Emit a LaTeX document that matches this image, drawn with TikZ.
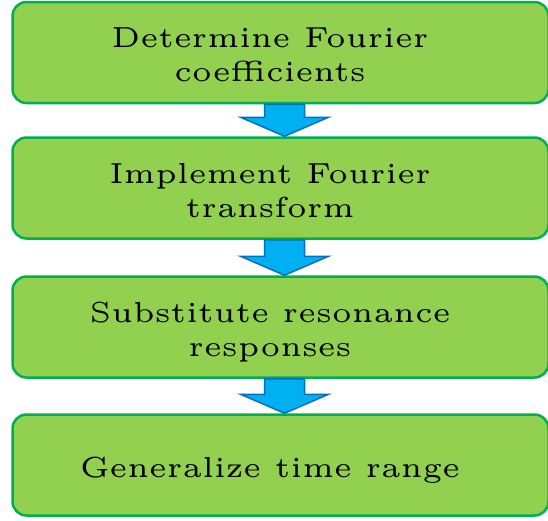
\documentclass[tikz,border=0pt]{standalone}
\usepackage{graphicx}
\usetikzlibrary{calc}
\definecolor{boxgreen}{HTML}{92D050}
\definecolor{edgegreen}{HTML}{00B050}
\definecolor{arrowblue}{HTML}{00B0F0}
\definecolor{edgeblue}{HTML}{0070C0}
\newcommand{\widetext}[1]{\scalebox{5.8}{\fontsize{5}{5.86}\selectfont\begin{tabular}{@{}c@{}}#1\end{tabular}}}
\begin{document}
\begin{tikzpicture}[x=1pt,y=1pt,
stepbox/.style={draw=edgegreen, fill=boxgreen, line width=2.5pt, rounded corners=14pt, minimum width=536pt, minimum height=101pt, inner sep=0pt},
steplabel/.style={inner sep=0pt},
flowarrow/.style={draw=edgeblue, fill=arrowblue, line width=1.5pt, line join=miter}]
\useasboundingbox (0,0) rectangle (548,-520);
\foreach \n/\y/\txt in {1/52.5/{Determine Fourier\\coefficients},2/188/{Implement Fourier\\transform},3/327/{Substitute resonance\\responses},4/465/{Generalize time range}}{
\node [stepbox] (box\n) at (280.5,-\y) {};
\node [steplabel] (label\n) at (270,-\y-5.5) {\widetext{\txt}};
}
\foreach \a/\b in {1/2,2/3,3/4}{
\draw [flowarrow] let \p1 = (box\a.south), \p2 = (box\b.north) in
(264.5pt,\y1) -- (304.5pt,\y1) -- (304.5pt,\y2+19pt) -- (328.5pt,\y2+19pt) -- (284.5pt,\y2) -- (240.5pt,\y2+19pt) -- (264.5pt,\y2+19pt) -- cycle;
}
\end{tikzpicture}
\end{document}
